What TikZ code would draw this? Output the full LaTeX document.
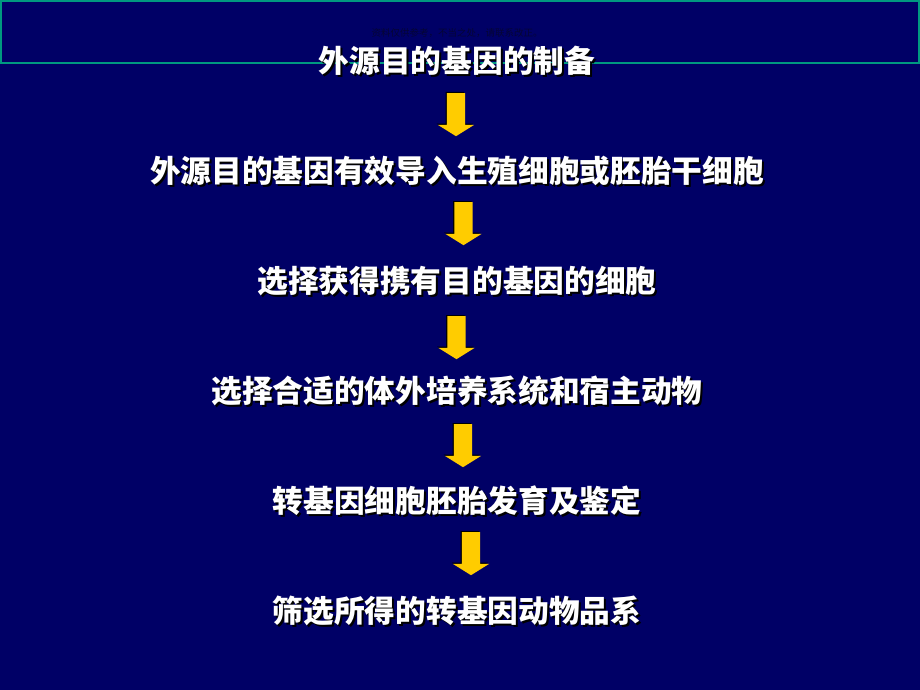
\documentclass[tikz,border=0pt]{standalone}
\usepackage{fontspec}
\newfontfamily\cjk{Noto Sans CJK SC}
\usetikzlibrary{positioning,shapes.arrows,shadows}
\definecolor{navy}{RGB}{0,0,102}
\definecolor{frameGreen}{RGB}{0,153,128}
\definecolor{gold}{RGB}{255,204,0}
\definecolor{faint}{RGB}{5,5,52}
\newcommand\shadowed[1]{\rlap{\kern2pt\raisebox{-2pt}{\color{black}#1}}#1}

\begin{document}
\begin{tikzpicture}[x=1pt,y=-1pt,
stage/.style={text=white, inner sep=0pt, font=\cjk\bfseries\fontsize{30.7}{36}\selectfont},
blockdown/.style={single arrow, rotate=-90, anchor=tail, fill=gold, draw=none,
  minimum height=43pt, inner sep=9pt, single arrow head extend=9pt,
  single arrow tip angle=116,
  drop shadow={shadow xshift=-1.2pt, shadow yshift=1.2pt, fill=black, opacity=1}}]
\fill[navy] (0,0) rectangle (920,690);
\useasboundingbox (0,0) rectangle (920,690);
\draw[frameGreen, line width=2pt] (1,1) rectangle (918.5,63);
\node (note) [text=faint, font=\cjk\fontsize{9.5}{11}\selectfont] at (457,33)
{资料仅供参考，不当之处，请联系改正。};

\node (prep) [stage] at (457,62) {\shadowed{外源目的基因的制备}};
\node (transfer) [stage, node distance=110pt, below of=prep]
{\shadowed{外源目的基因有效导入生殖细胞或胚胎干细胞}};
\node (select) [stage, node distance=110pt, below of=transfer]
{\shadowed{选择获得携有目的基因的细胞}};
\node (culture) [stage, node distance=110pt, below of=select]
{\shadowed{选择合适的体外培养系统和宿主动物}};
\node (embryo) [stage, node distance=110pt, below of=culture]
{\shadowed{转基因细胞胚胎发育及鉴定}};
\node (strain) [stage, node distance=110pt, below of=embryo]
{\shadowed{筛选所得的转基因动物品系}};

\node (arrowA) [blockdown] at (456,93) {};
\node (arrowB) [blockdown] at (463.5,202) {};
\node (arrowC) [blockdown] at (456.5,316) {};
\node (arrowD) [blockdown] at (463,424) {};
\node (arrowE) [blockdown] at (471,532) {};
\end{tikzpicture}
\end{document}
